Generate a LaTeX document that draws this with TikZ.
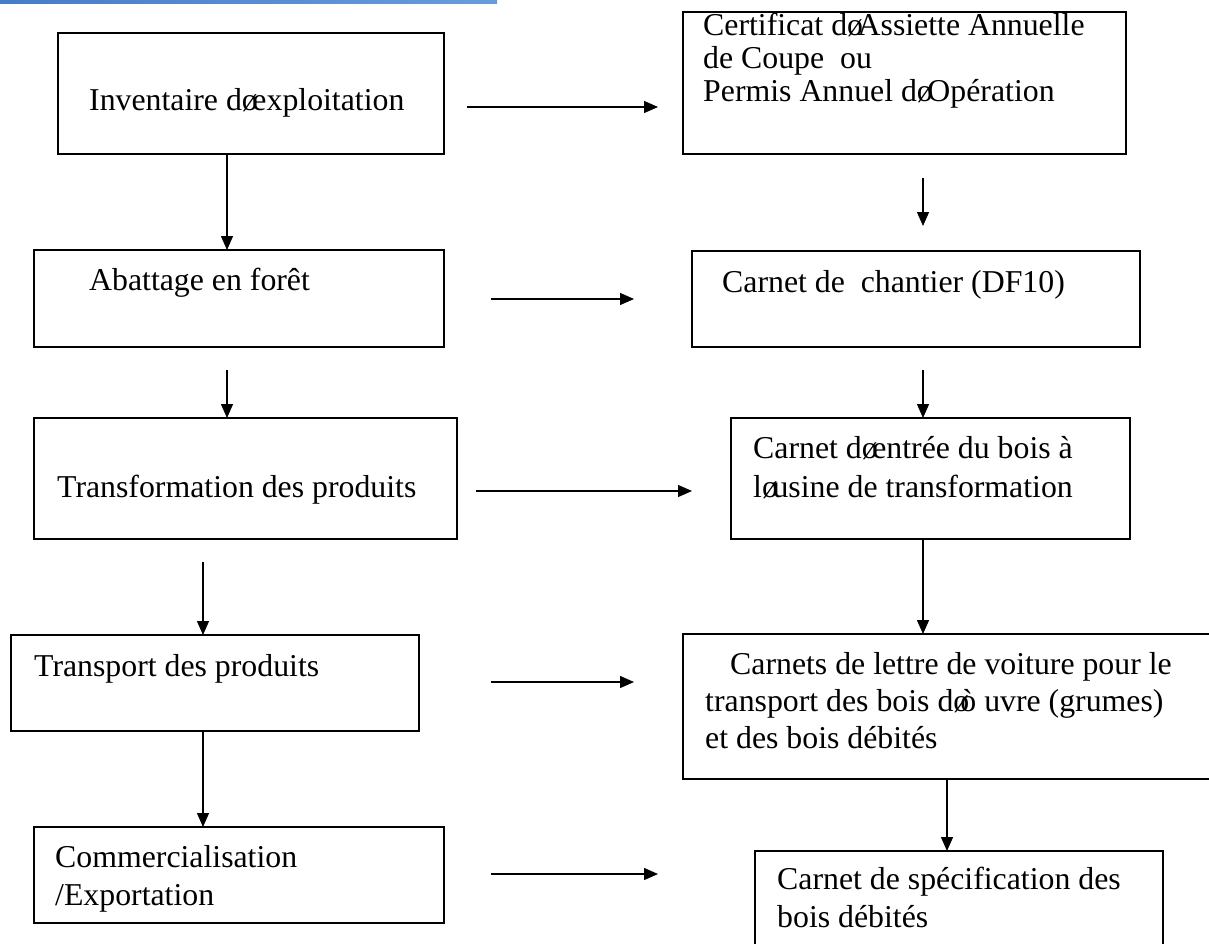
\documentclass[tikz,border=0pt]{standalone}
\usepackage{fontspec}
\setmainfont{Liberation Serif}
\usetikzlibrary{arrows.meta}
\newcommand{\apo}{\makebox[0.33em][l]{ø}}
\definecolor{barL}{RGB}{70,125,200}
\definecolor{barR}{RGB}{105,155,220}
\begin{document}
\begin{tikzpicture}[x=1pt,y=-1pt,
  box/.style={draw, line width=1.5pt, anchor=north west, inner sep=0pt, outer sep=0pt},
  txt/.style={anchor=base west, inner sep=0pt, font=\fontsize{31.8}{36.6}\selectfont},
  arr/.style={line width=1.3pt, -{Triangle[length=14pt,width=12pt]}}]
\clip (0,0) rectangle (1209,944);
\useasboundingbox (0,0) rectangle (1209,944);
\fill[white] (0,0) rectangle (1209,944);
\shade[left color=barL, right color=barR] (0,0) rectangle (497,3.5);

% left column boxes
\node[box, minimum width=386pt, minimum height=121pt] (b1) at (58,33) {};
\node[box, minimum width=410pt, minimum height=97pt]  (b2) at (34,250) {};
\node[box, minimum width=423pt, minimum height=121pt] (b3) at (34,418) {};
\node[box, minimum width=408pt, minimum height=96pt]  (b4) at (11,635) {};
\node[box, minimum width=410pt, minimum height=96pt]  (b5) at (34,827) {};
% right column boxes
\node[box, minimum width=443pt, minimum height=142pt] (r1) at (683,12) {};
\node[box, minimum width=448pt, minimum height=96pt]  (r2) at (692,251) {};
\node[box, minimum width=399pt, minimum height=121pt] (r3) at (731,418) {};
\node[box, minimum width=540pt, minimum height=145pt] (r4) at (683,634) {};
\node[box, minimum width=408pt, minimum height=120pt] (r5) at (755,851) {};

% texts
\node[txt] (t1) at (89,111) {Inventaire d\apo exploitation};
\node[txt] (t2) at (89,290) {Abattage en forêt};
\node[txt] (t3) at (57,497) {Transformation des produits};
\node[txt] (t4) at (34,676) {Transport des produits};
\node[txt] (t5a) at (55,867) {Commercialisation};
\node[txt] (t5b) at (55,905) {/Exportation};
\node[txt] (u1a) at (703,36) {Certificat d\apo Assiette Annuelle};
\node[txt] (u1b) at (703,69) {de Coupe\ \ ou};
\node[txt] (u1c) at (703,102) {Permis Annuel d\apo Opération};
\node[txt] (u2) at (722,292) {Carnet de\ \ chantier (DF10)};
\node[txt] (u3a) at (753,458) {Carnet d\apo entrée du bois à};
\node[txt] (u3b) at (753,497) {l\apo usine de transformation};
\node[txt] (u4a) at (730,674) {Carnets de lettre de voiture pour le};
\node[txt] (u4b) at (705,711) {transport des bois d\makebox[0.22em][l]{ø}ò uvre (grumes)};
\node[txt] (u4c) at (705,748) {et des bois débités};
\node[txt] (u5a) at (777,889) {Carnet de spécification des};
\node[txt] (u5b) at (777,927) {bois débités};

% helper coordinates
\coordinate (xa) at (227,0);
\coordinate (xc) at (203,0);
\coordinate (xe) at (923,0);
\coordinate (xh) at (947,0);
\coordinate (h1s) at (467,107); \coordinate (h1e) at (658,107);
\coordinate (h2s) at (491,299); \coordinate (h2e) at (634,299);
\coordinate (h3s) at (476,491); \coordinate (h3e) at (692,491);
\coordinate (h4s) at (491,682); \coordinate (h4e) at (634,682);
\coordinate (h5s) at (491,874); \coordinate (h5e) at (658,874);
\coordinate (sB) at (227,370);
\coordinate (sC) at (203,562);
\coordinate (sE) at (923,178); \coordinate (eE) at (923,226);
\coordinate (sF) at (923,370);

% horizontal arrows
\draw[arr] (h1s) -- (h1e);
\draw[arr] (h2s) -- (h2e);
\draw[arr] (h3s) -- (h3e);
\draw[arr] (h4s) -- (h4e);
\draw[arr] (h5s) -- (h5e);
% vertical arrows left
\draw[arr] (b1.south -| xa) -- (b2.north -| xa);
\draw[arr] (sB) -- (b3.north -| xa);
\draw[arr] (sC) -- (b4.north -| xc);
\draw[arr] (b4.south -| xc) -- (b5.north -| xc);
% vertical arrows right
\draw[arr] (sE) -- (eE);
\draw[arr] (sF) -- (r3.north -| xe);
\draw[arr] (r3.south -| xe) -- (r4.north -| xe);
\draw[arr] (r4.south -| xh) -- (r5.north -| xh);
\end{tikzpicture}
\end{document}
